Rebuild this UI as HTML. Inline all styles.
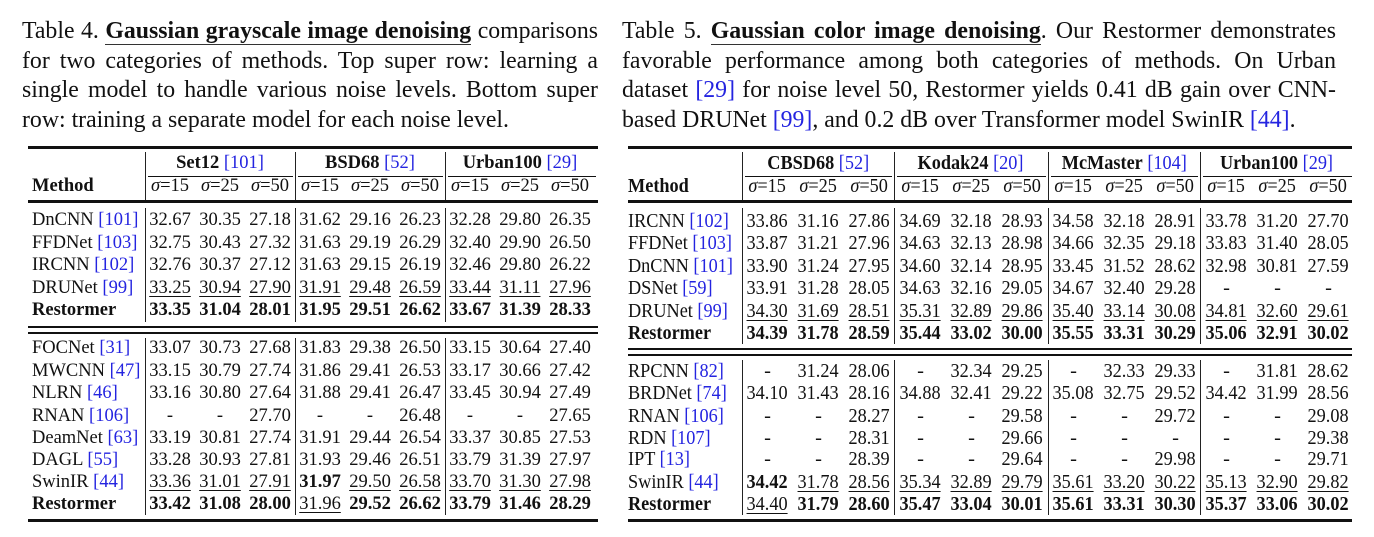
<!DOCTYPE html>
<html><head><meta charset="utf-8"><style>
body{margin:0;width:1374px;height:537px;background:#fff;position:relative;overflow:hidden;font-family:"Liberation Serif",serif;color:#111}
.cap{position:absolute;font-size:23.8px;line-height:29.5px}
.cap div{white-space:nowrap;text-align:justify;text-align-last:justify}
.cap div.last{text-align-last:left}
.ref{color:#2424e0;font-weight:normal}
.ttl{font-weight:bold;border-bottom:1.5px solid #333}
.r{position:absolute;display:flex;font-size:18.5px;line-height:23px;white-space:nowrap}
.r.R{font-size:20.5px}
.r>span{display:block;text-align:center}
.L>span{width:50px}.L>span.m{width:113px;padding-left:4px;text-align:left}
.R>span{width:51px}.R>span.m{width:114px;text-align:left}
.in{display:inline-block;transform:scaleX(0.89)}
.m .in{transform-origin:left center}
.h{position:absolute;background:#111}
.v{position:absolute;width:1px;background:#222}
u{text-decoration:underline;text-underline-offset:3px;text-decoration-thickness:1px}
</style></head><body>

<div class="cap" style="left:22px;top:17px;width:576px">
<div>Table 4. <span class="ttl">Gaussian grayscale image denoising</span> comparisons</div>
<div>for two categories of methods. Top super row: learning a</div>
<div>single model to handle various noise levels. Bottom super</div>
<div class="last">row: training a separate model for each noise level.</div>
</div>
<div class="cap" style="left:622px;top:17px;width:714px">
<div>Table 5. <span class="ttl">Gaussian color image denoising</span>. Our Restormer demonstrates</div>
<div>favorable performance among both categories of methods. On Urban</div>
<div>dataset <span class="ref">[29]</span> for noise level 50, Restormer yields 0.41 dB gain over CNN-</div>
<div class="last">based DRUNet <span class="ref">[99]</span>, and 0.2 dB over Transformer model SwinIR <span class="ref">[44]</span>.</div>
</div>

<!-- LEFT TABLE -->
<div class="h" style="left:28px;top:146px;width:570px;height:2.5px"></div>
<div class="h" style="left:148px;top:176px;width:145px;height:1px"></div>
<div class="h" style="left:298px;top:176px;width:145px;height:1px"></div>
<div class="h" style="left:448px;top:176px;width:148px;height:1px"></div>
<div class="h" style="left:28px;top:200px;width:570px;height:3px"></div>
<div class="h" style="left:28px;top:326px;width:570px;height:2px"></div>
<div class="h" style="left:28px;top:332px;width:570px;height:2px"></div>
<div class="h" style="left:28px;top:519px;width:570px;height:2.5px"></div>
<div class="v" style="left:145px;top:152px;height:48px"></div>
<div class="v" style="left:295px;top:152px;height:48px"></div>
<div class="v" style="left:445px;top:152px;height:48px"></div>
<div class="v" style="left:145px;top:208px;height:114px"></div>
<div class="v" style="left:295px;top:208px;height:114px"></div>
<div class="v" style="left:445px;top:208px;height:114px"></div>
<div class="v" style="left:145px;top:338px;height:177px"></div>
<div class="v" style="left:295px;top:338px;height:177px"></div>
<div class="v" style="left:445px;top:338px;height:177px"></div>

<div class="r L" style="left:28px;top:152px"><span class="m"></span><span style="width:150px"><b>Set12</b> <span class="ref">[101]</span></span><span style="width:150px"><b>BSD68</b> <span class="ref">[52]</span></span><span style="width:150px"><b>Urban100</b> <span class="ref">[29]</span></span></div>
<div class="r L" style="left:28px;top:175px"><span class="m"><b>Method</b></span><span><i>σ</i>=15</span><span><i>σ</i>=25</span><span><i>σ</i>=50</span><span><i>σ</i>=15</span><span><i>σ</i>=25</span><span><i>σ</i>=50</span><span><i>σ</i>=15</span><span><i>σ</i>=25</span><span><i>σ</i>=50</span></div>

<div class="r L" style="left:28px;top:209px"><span class="m">DnCNN <span class="ref">[101]</span></span><span>32.67</span><span>30.35</span><span>27.18</span><span>31.62</span><span>29.16</span><span>26.23</span><span>32.28</span><span>29.80</span><span>26.35</span></div>
<div class="r L" style="left:28px;top:231.5px"><span class="m">FFDNet <span class="ref">[103]</span></span><span>32.75</span><span>30.43</span><span>27.32</span><span>31.63</span><span>29.19</span><span>26.29</span><span>32.40</span><span>29.90</span><span>26.50</span></div>
<div class="r L" style="left:28px;top:254px"><span class="m">IRCNN <span class="ref">[102]</span></span><span>32.76</span><span>30.37</span><span>27.12</span><span>31.63</span><span>29.15</span><span>26.19</span><span>32.46</span><span>29.80</span><span>26.22</span></div>
<div class="r L" style="left:28px;top:276.5px"><span class="m">DRUNet <span class="ref">[99]</span></span><span><u>33.25</u></span><span><u>30.94</u></span><span><u>27.90</u></span><span><u>31.91</u></span><span><u>29.48</u></span><span><u>26.59</u></span><span><u>33.44</u></span><span><u>31.11</u></span><span><u>27.96</u></span></div>
<div class="r L" style="left:28px;top:299px;font-weight:bold"><span class="m">Restormer</span><span>33.35</span><span>31.04</span><span>28.01</span><span>31.95</span><span>29.51</span><span>26.62</span><span>33.67</span><span>31.39</span><span>28.33</span></div>

<div class="r L" style="left:28px;top:337px"><span class="m">FOCNet <span class="ref">[31]</span></span><span>33.07</span><span>30.73</span><span>27.68</span><span>31.83</span><span>29.38</span><span>26.50</span><span>33.15</span><span>30.64</span><span>27.40</span></div>
<div class="r L" style="left:28px;top:359.5px"><span class="m">MWCNN <span class="ref">[47]</span></span><span>33.15</span><span>30.79</span><span>27.74</span><span>31.86</span><span>29.41</span><span>26.53</span><span>33.17</span><span>30.66</span><span>27.42</span></div>
<div class="r L" style="left:28px;top:382px"><span class="m">NLRN <span class="ref">[46]</span></span><span>33.16</span><span>30.80</span><span>27.64</span><span>31.88</span><span>29.41</span><span>26.47</span><span>33.45</span><span>30.94</span><span>27.49</span></div>
<div class="r L" style="left:28px;top:404.5px"><span class="m">RNAN <span class="ref">[106]</span></span><span>-</span><span>-</span><span>27.70</span><span>-</span><span>-</span><span>26.48</span><span>-</span><span>-</span><span>27.65</span></div>
<div class="r L" style="left:28px;top:426.5px"><span class="m">DeamNet <span class="ref">[63]</span></span><span>33.19</span><span>30.81</span><span>27.74</span><span>31.91</span><span>29.44</span><span>26.54</span><span>33.37</span><span>30.85</span><span>27.53</span></div>
<div class="r L" style="left:28px;top:449px"><span class="m">DAGL <span class="ref">[55]</span></span><span>33.28</span><span>30.93</span><span>27.81</span><span>31.93</span><span>29.46</span><span>26.51</span><span>33.79</span><span>31.39</span><span>27.97</span></div>
<div class="r L" style="left:28px;top:471px"><span class="m">SwinIR <span class="ref">[44]</span></span><span><u>33.36</u></span><span><u>31.01</u></span><span><u>27.91</u></span><span><b>31.97</b></span><span><u>29.50</u></span><span><u>26.58</u></span><span><u>33.70</u></span><span><u>31.30</u></span><span><u>27.98</u></span></div>
<div class="r L" style="left:28px;top:492.5px;font-weight:bold"><span class="m">Restormer</span><span>33.42</span><span>31.08</span><span>28.00</span><span style="font-weight:normal"><u>31.96</u></span><span>29.52</span><span>26.62</span><span>33.79</span><span>31.46</span><span>28.29</span></div>

<!-- RIGHT TABLE -->
<div class="h" style="left:628px;top:146px;width:724px;height:2.5px"></div>
<div class="h" style="left:745px;top:176px;width:147px;height:1px"></div>
<div class="h" style="left:897px;top:176px;width:149px;height:1px"></div>
<div class="h" style="left:1051px;top:176px;width:147px;height:1px"></div>
<div class="h" style="left:1203px;top:176px;width:149px;height:1px"></div>
<div class="h" style="left:628px;top:200px;width:724px;height:3px"></div>
<div class="h" style="left:628px;top:348px;width:724px;height:2px"></div>
<div class="h" style="left:628px;top:354px;width:724px;height:2px"></div>
<div class="h" style="left:628px;top:519px;width:724px;height:2.5px"></div>
<div class="v" style="left:742px;top:152px;height:48px"></div>
<div class="v" style="left:894px;top:152px;height:48px"></div>
<div class="v" style="left:1048px;top:152px;height:48px"></div>
<div class="v" style="left:1200px;top:152px;height:48px"></div>
<div class="v" style="left:742px;top:208px;height:136px"></div>
<div class="v" style="left:894px;top:208px;height:136px"></div>
<div class="v" style="left:1048px;top:208px;height:136px"></div>
<div class="v" style="left:1200px;top:208px;height:136px"></div>
<div class="v" style="left:742px;top:360px;height:155px"></div>
<div class="v" style="left:894px;top:360px;height:155px"></div>
<div class="v" style="left:1048px;top:360px;height:155px"></div>
<div class="v" style="left:1200px;top:360px;height:155px"></div>

<div class="r R" style="left:628px;top:152px"><span class="m"></span><span style="width:152px"><span class="in"><b>CBSD68</b> <span class="ref">[52]</span></span></span><span style="width:154px"><span class="in"><b>Kodak24</b> <span class="ref">[20]</span></span></span><span style="width:152px"><span class="in"><b>McMaster</b> <span class="ref">[104]</span></span></span><span style="width:152px"><span class="in"><b>Urban100</b> <span class="ref">[29]</span></span></span></div>
<div class="r R" style="left:628px;top:175px"><span class="m"><span class="in"><b>Method</b></span></span><span><span class="in"><i>σ</i>=15</span></span><span><span class="in"><i>σ</i>=25</span></span><span><span class="in"><i>σ</i>=50</span></span><span><span class="in"><i>σ</i>=15</span></span><span><span class="in"><i>σ</i>=25</span></span><span><span class="in"><i>σ</i>=50</span></span><span><span class="in"><i>σ</i>=15</span></span><span><span class="in"><i>σ</i>=25</span></span><span><span class="in"><i>σ</i>=50</span></span><span><span class="in"><i>σ</i>=15</span></span><span><span class="in"><i>σ</i>=25</span></span><span><span class="in"><i>σ</i>=50</span></span></div>

<div class="r R" style="left:628px;top:209.5px"><span class="m"><span class="in">IRCNN <span class="ref">[102]</span></span></span><span><span class="in">33.86</span></span><span><span class="in">31.16</span></span><span><span class="in">27.86</span></span><span><span class="in">34.69</span></span><span><span class="in">32.18</span></span><span><span class="in">28.93</span></span><span><span class="in">34.58</span></span><span><span class="in">32.18</span></span><span><span class="in">28.91</span></span><span><span class="in">33.78</span></span><span><span class="in">31.20</span></span><span><span class="in">27.70</span></span></div>
<div class="r R" style="left:628px;top:232px"><span class="m"><span class="in">FFDNet <span class="ref">[103]</span></span></span><span><span class="in">33.87</span></span><span><span class="in">31.21</span></span><span><span class="in">27.96</span></span><span><span class="in">34.63</span></span><span><span class="in">32.13</span></span><span><span class="in">28.98</span></span><span><span class="in">34.66</span></span><span><span class="in">32.35</span></span><span><span class="in">29.18</span></span><span><span class="in">33.83</span></span><span><span class="in">31.40</span></span><span><span class="in">28.05</span></span></div>
<div class="r R" style="left:628px;top:254.5px"><span class="m"><span class="in">DnCNN <span class="ref">[101]</span></span></span><span><span class="in">33.90</span></span><span><span class="in">31.24</span></span><span><span class="in">27.95</span></span><span><span class="in">34.60</span></span><span><span class="in">32.14</span></span><span><span class="in">28.95</span></span><span><span class="in">33.45</span></span><span><span class="in">31.52</span></span><span><span class="in">28.62</span></span><span><span class="in">32.98</span></span><span><span class="in">30.81</span></span><span><span class="in">27.59</span></span></div>
<div class="r R" style="left:628px;top:277px"><span class="m"><span class="in">DSNet <span class="ref">[59]</span></span></span><span><span class="in">33.91</span></span><span><span class="in">31.28</span></span><span><span class="in">28.05</span></span><span><span class="in">34.63</span></span><span><span class="in">32.16</span></span><span><span class="in">29.05</span></span><span><span class="in">34.67</span></span><span><span class="in">32.40</span></span><span><span class="in">29.28</span></span><span>-</span><span>-</span><span>-</span></div>
<div class="r R" style="left:628px;top:299.5px"><span class="m"><span class="in">DRUNet <span class="ref">[99]</span></span></span><span><span class="in"><u>34.30</u></span></span><span><span class="in"><u>31.69</u></span></span><span><span class="in"><u>28.51</u></span></span><span><span class="in"><u>35.31</u></span></span><span><span class="in"><u>32.89</u></span></span><span><span class="in"><u>29.86</u></span></span><span><span class="in"><u>35.40</u></span></span><span><span class="in"><u>33.14</u></span></span><span><span class="in"><u>30.08</u></span></span><span><span class="in"><u>34.81</u></span></span><span><span class="in"><u>32.60</u></span></span><span><span class="in"><u>29.61</u></span></span></div>
<div class="r R" style="left:628px;top:321.5px;font-weight:bold"><span class="m"><span class="in">Restormer</span></span><span><span class="in">34.39</span></span><span><span class="in">31.78</span></span><span><span class="in">28.59</span></span><span><span class="in">35.44</span></span><span><span class="in">33.02</span></span><span><span class="in">30.00</span></span><span><span class="in">35.55</span></span><span><span class="in">33.31</span></span><span><span class="in">30.29</span></span><span><span class="in">35.06</span></span><span><span class="in">32.91</span></span><span><span class="in">30.02</span></span></div>

<div class="r R" style="left:628px;top:359.5px"><span class="m"><span class="in">RPCNN <span class="ref">[82]</span></span></span><span>-</span><span><span class="in">31.24</span></span><span><span class="in">28.06</span></span><span>-</span><span><span class="in">32.34</span></span><span><span class="in">29.25</span></span><span>-</span><span><span class="in">32.33</span></span><span><span class="in">29.33</span></span><span>-</span><span><span class="in">31.81</span></span><span><span class="in">28.62</span></span></div>
<div class="r R" style="left:628px;top:381.5px"><span class="m"><span class="in">BRDNet <span class="ref">[74]</span></span></span><span><span class="in">34.10</span></span><span><span class="in">31.43</span></span><span><span class="in">28.16</span></span><span><span class="in">34.88</span></span><span><span class="in">32.41</span></span><span><span class="in">29.22</span></span><span><span class="in">35.08</span></span><span><span class="in">32.75</span></span><span><span class="in">29.52</span></span><span><span class="in">34.42</span></span><span><span class="in">31.99</span></span><span><span class="in">28.56</span></span></div>
<div class="r R" style="left:628px;top:404.5px"><span class="m"><span class="in">RNAN <span class="ref">[106]</span></span></span><span>-</span><span>-</span><span><span class="in">28.27</span></span><span>-</span><span>-</span><span><span class="in">29.58</span></span><span>-</span><span>-</span><span><span class="in">29.72</span></span><span>-</span><span>-</span><span><span class="in">29.08</span></span></div>
<div class="r R" style="left:628px;top:426.5px"><span class="m"><span class="in">RDN <span class="ref">[107]</span></span></span><span>-</span><span>-</span><span><span class="in">28.31</span></span><span>-</span><span>-</span><span><span class="in">29.66</span></span><span>-</span><span>-</span><span>-</span><span>-</span><span>-</span><span><span class="in">29.38</span></span></div>
<div class="r R" style="left:628px;top:448px"><span class="m"><span class="in">IPT <span class="ref">[13]</span></span></span><span>-</span><span>-</span><span><span class="in">28.39</span></span><span>-</span><span>-</span><span><span class="in">29.64</span></span><span>-</span><span>-</span><span><span class="in">29.98</span></span><span>-</span><span>-</span><span><span class="in">29.71</span></span></div>
<div class="r R" style="left:628px;top:470.5px"><span class="m"><span class="in">SwinIR <span class="ref">[44]</span></span></span><span><span class="in"><b>34.42</b></span></span><span><span class="in"><u>31.78</u></span></span><span><span class="in"><u>28.56</u></span></span><span><span class="in"><u>35.34</u></span></span><span><span class="in"><u>32.89</u></span></span><span><span class="in"><u>29.79</u></span></span><span><span class="in"><u>35.61</u></span></span><span><span class="in"><u>33.20</u></span></span><span><span class="in"><u>30.22</u></span></span><span><span class="in"><u>35.13</u></span></span><span><span class="in"><u>32.90</u></span></span><span><span class="in"><u>29.82</u></span></span></div>
<div class="r R" style="left:628px;top:492.5px;font-weight:bold"><span class="m"><span class="in">Restormer</span></span><span style="font-weight:normal"><span class="in"><u>34.40</u></span></span><span><span class="in">31.79</span></span><span><span class="in">28.60</span></span><span><span class="in">35.47</span></span><span><span class="in">33.04</span></span><span><span class="in">30.01</span></span><span><span class="in">35.61</span></span><span><span class="in">33.31</span></span><span><span class="in">30.30</span></span><span><span class="in">35.37</span></span><span><span class="in">33.06</span></span><span><span class="in">30.02</span></span></div>
</body></html>
